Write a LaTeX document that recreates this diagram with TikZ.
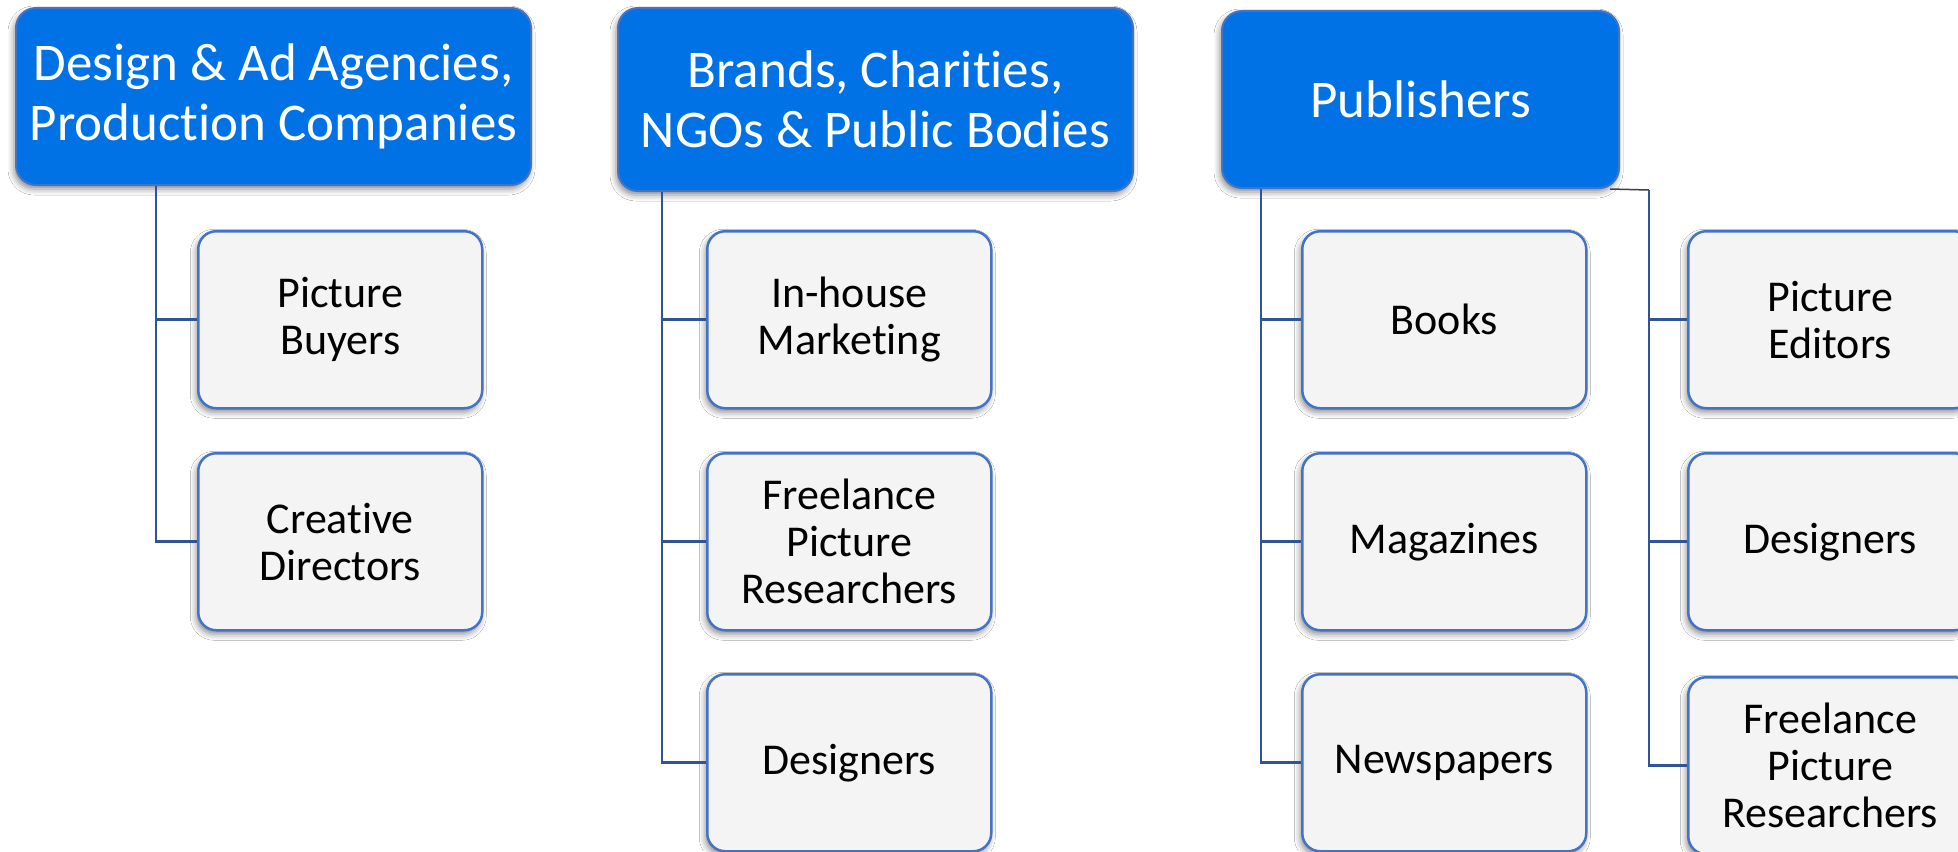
\documentclass[tikz,border=0pt]{standalone}
\usepackage{fontspec}
\setmainfont{Carlito}[RawFeature=-liga, RawFeature=-clig, RawFeature=-calt,
  RawFeature=-rlig, RawFeature=-dlig]
\usetikzlibrary{shadows.blur}

\definecolor{hdrfill}{RGB}{0,114,229}
\definecolor{hdrline}{RGB}{68,114,196}
\definecolor{leaffill}{RGB}{244,244,244}
\definecolor{leafline}{RGB}{68,114,196}
\definecolor{connline}{RGB}{47,85,151}
\definecolor{stubline}{RGB}{64,64,64}

\tikzset{
  softshadow/.style={blur shadow={shadow xshift=-2pt, shadow yshift=-4pt,
      shadow blur radius=6pt, shadow opacity=45}},
  hdr/.style={rectangle, rounded corners=20pt, fill=hdrfill, draw=hdrline,
      line width=2pt, text=white, font=\fontsize{53}{60}\selectfont,
      align=center, anchor=north west, inner sep=0pt, softshadow},
  leaf/.style={rectangle, rounded corners=18pt, fill=leaffill, draw=leafline,
      line width=2.5pt, text=black, font=\fontsize{44}{47}\selectfont,
      align=center, anchor=north west, inner sep=0pt,
      minimum width=284pt, minimum height=177pt, softshadow},
  conn/.style={draw=connline, line width=2.8pt},
  stub/.style={draw=stubline, line width=1.5pt},
}

\begin{document}
\begin{tikzpicture}[x=1pt, y=-1pt]
  \useasboundingbox (0,0) rectangle (1958,851);
  \fill[white] (0,0) rectangle (1958,851);
  \clip (0,0) rectangle (1958,851);

  % group headers
  \node[hdr, minimum width=515pt, minimum height=177pt] (h1) at (15,7)
    {Design \& Ad Agencies,\\Production Companies};
  \node[hdr, minimum width=515pt, minimum height=183pt] (h2) at (617,7)
    {Brands, Charities,\\NGOs \& Public Bodies};
  \node[hdr, minimum width=397pt, minimum height=177pt] (h3) at (1221,10)
    {Publishers};

  % roles, first group
  \node[leaf] (pb) at (197,230) {Picture\\Buyers};
  \node[leaf] (cd) at (197,452) {Creative\\Directors};

  % roles, second group
  \node[leaf] (ih) at (706,230) {In-house\\Marketing};
  \node[leaf] (fp) at (706,452) {Freelance\\Picture\\Researchers};
  \node[leaf] (d2) at (706,673) {Designers};

  % publishing sectors
  \node[leaf] (bk) at (1301,230) {Books};
  \node[leaf] (mg) at (1301,452) {Magazines};
  \node[leaf] (np) at (1301,673) {Newspapers};

  % publishing roles
  \node[leaf] (pe) at (1687,230) {Picture\\Editors};
  \node[leaf] (d4) at (1687,452) {Designers};
  \node[leaf] (fr) at (1687,676) {Freelance\\Picture\\Researchers};

  % trunk positions
  \coordinate (t1) at (156,0);
  \coordinate (t2) at (662,0);
  \coordinate (t3) at (1261,0);
  \coordinate (t4) at (1649,0);

  % connectors
  \draw[conn] (h1.south -| t1) |- (pb.west);
  \draw[conn] (h1.south -| t1) |- (cd.west);

  \draw[conn] (h2.south -| t2) |- (ih.west);
  \draw[conn] (h2.south -| t2) |- (fp.west);
  \draw[conn] (h2.south -| t2) |- (d2.west);

  \draw[conn] (h3.south -| t3) |- (bk.west);
  \draw[conn] (h3.south -| t3) |- (mg.west);
  \draw[conn] (h3.south -| t3) |- (np.west);

  \draw[stub] ([xshift=-10pt]h3.south east) -- ([yshift=-1pt]h3.south east -| t4);
  \draw[conn] ([yshift=-1pt]h3.south east -| t4) |- (pe.west);
  \draw[conn] ([yshift=-1pt]h3.south east -| t4) |- (d4.west);
  \draw[conn] ([yshift=-1pt]h3.south east -| t4) |- (fr.west);
\end{tikzpicture}
\end{document}
